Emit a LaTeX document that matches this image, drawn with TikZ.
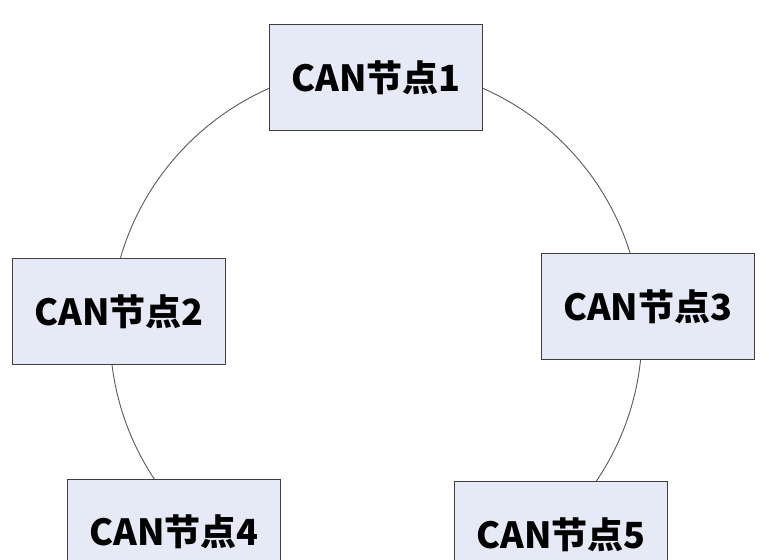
\documentclass[tikz,border=0pt]{standalone}
\usepackage{fontspec}
\newfontfamily\cjk{Noto Sans CJK SC}
\definecolor{nodefill}{RGB}{230,234,247}
\definecolor{nodeline}{RGB}{64,64,64}
\definecolor{busline}{RGB}{90,90,90}
\tikzset{
  canbox/.style={draw=nodeline,line width=1.2pt,fill=nodefill,
    minimum width=213pt,minimum height=106pt,inner sep=0pt,
    font=\cjk\bfseries\fontsize{36pt}{40pt}\selectfont}
}

\begin{document}
\begin{tikzpicture}[x=1pt,y=-1pt]
    \useasboundingbox (0,0) rectangle (769,560);
    \clip (0,0) rectangle (769,560);
    % bus ring
    \coordinate (bus) at (376,332);
    \draw[busline,line width=0.9pt] (bus) circle[radius=266];
    % nodes
    \node[canbox] (n1) at (376,77.5) {CAN节点1};
    \node[canbox] (n2) at (119,311.3) {CAN节点2};
    \node[canbox] (n3) at (647.8,306.7) {CAN节点3};
    \node[canbox] (n4) at (174.3,532.2) {CAN节点4};
    \node[canbox] (n5) at (561.3,534.8) {CAN节点5};
\end{tikzpicture}
\end{document}
